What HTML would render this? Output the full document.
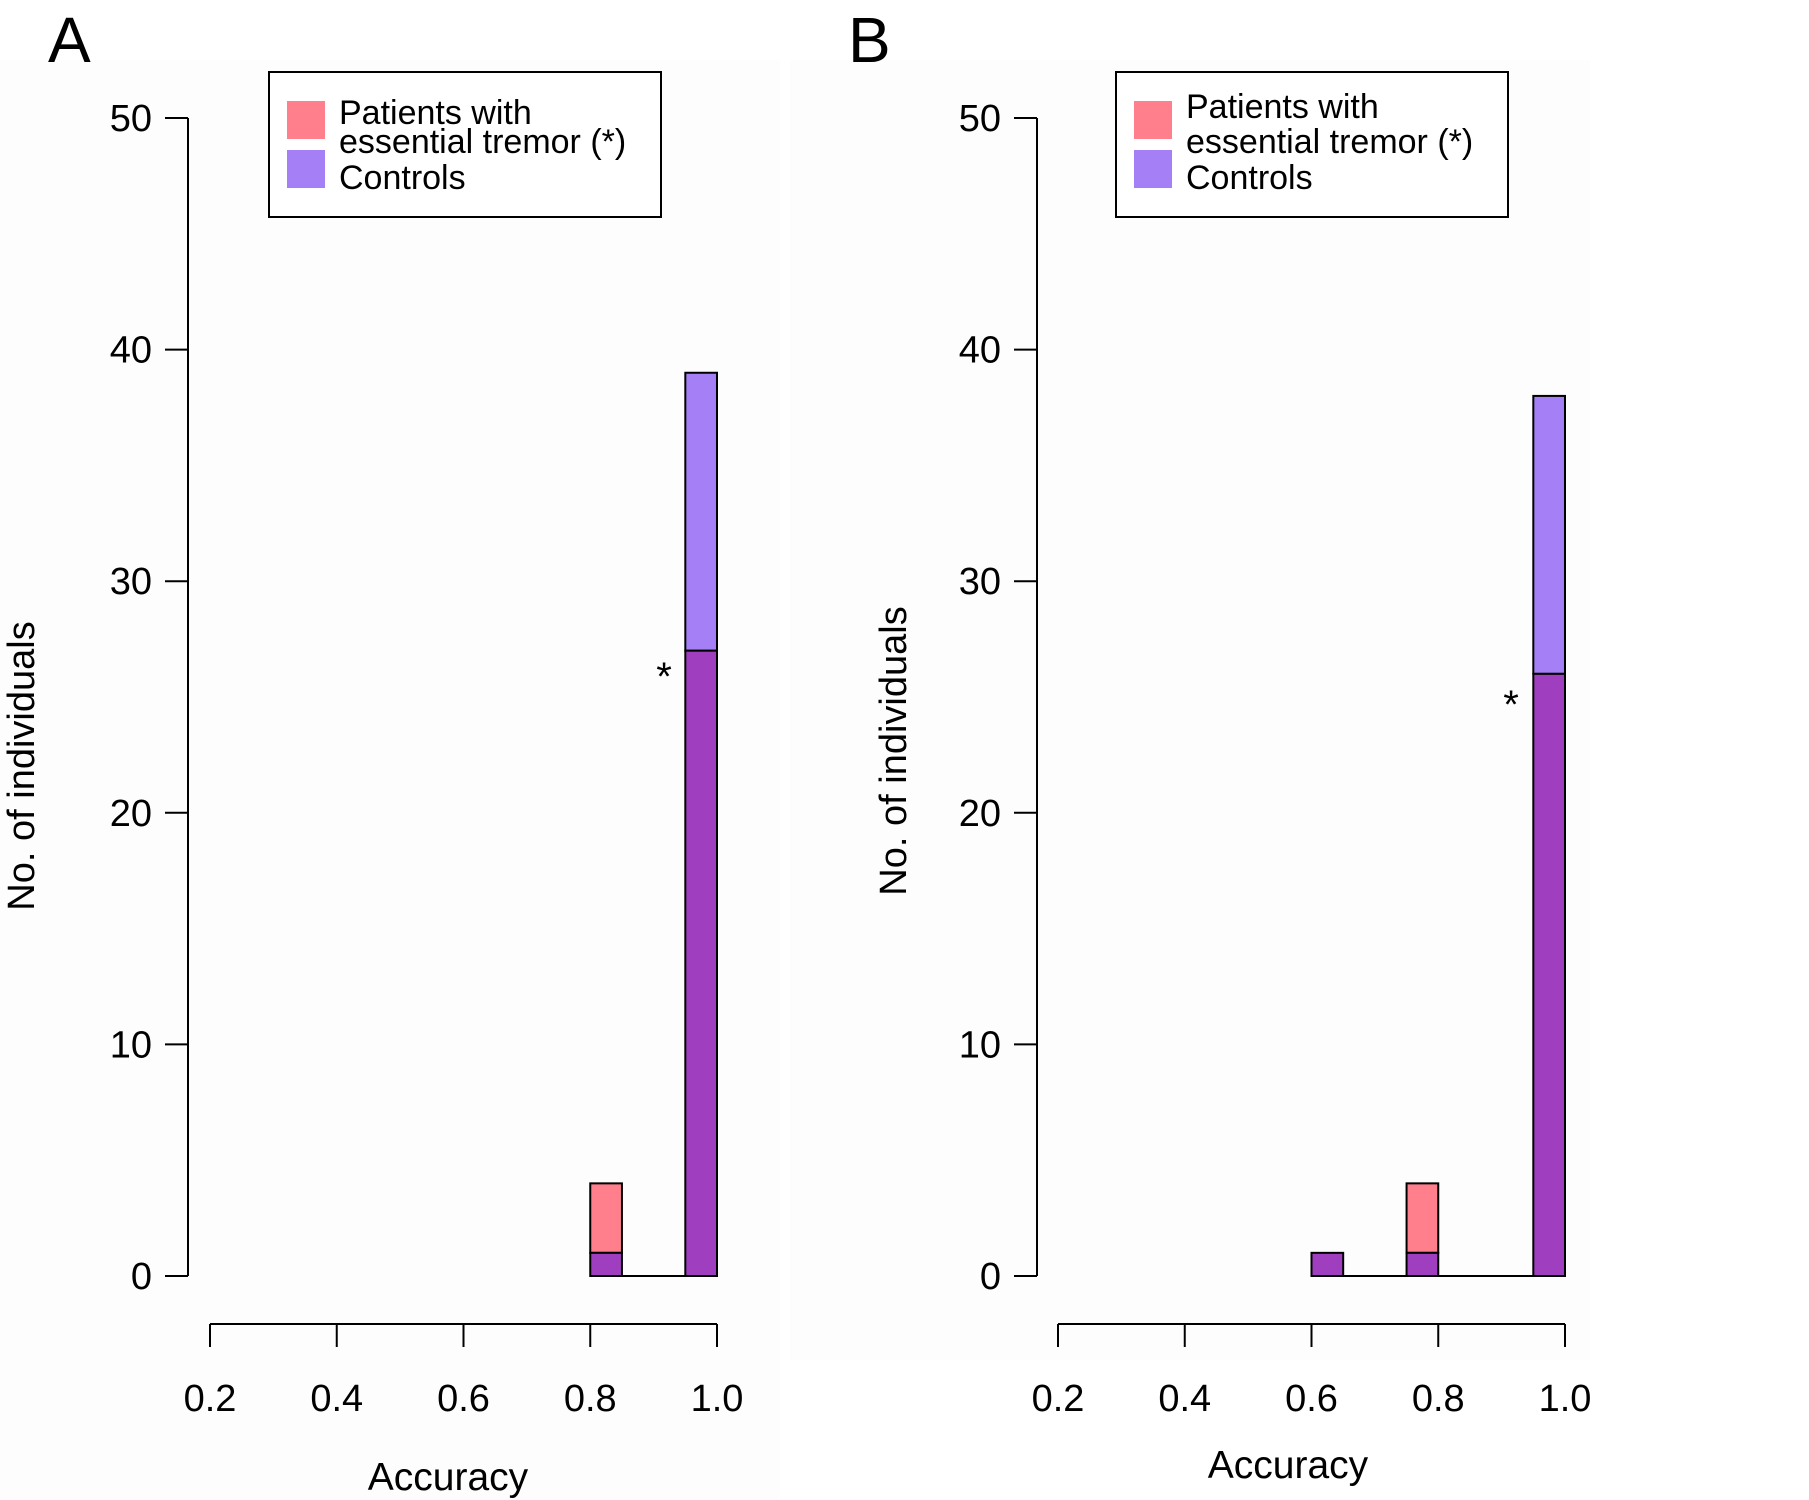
<!DOCTYPE html>
<html><head><meta charset="utf-8"><style>
body{margin:0;background:#fff}
svg{display:block;font-family:"Liberation Sans",sans-serif}
</style></head><body>
<svg id="chart" width="1809" height="1500" viewBox="0 0 1809 1500" xmlns="http://www.w3.org/2000/svg">
<rect x="0" y="0" width="1809" height="1500" fill="#ffffff"/>
<rect x="0" y="60" width="780" height="1440" fill="#fdfdfd"/>
<rect x="790" y="60" width="800" height="1300" fill="#fdfdfd"/>
</svg>
<script>
const binStarts = [0.6, 0.75, 0.8, 0.95];
const binWidth = 0.05;
const aPatients = [0, 0, 4, 27];
const aControls = [0, 0, 1, 39];
const bPatients = [1, 4, 0, 26];
const bControls = [1, 1, 0, 38];
const yTicks = [0, 10, 20, 30, 40, 50];
const xTicks = [0.2, 0.4, 0.6, 0.8, 1.0];
const xTickLabels = ["0.2", "0.4", "0.6", "0.8", "1.0"];

const NS = "http://www.w3.org/2000/svg";
const svg = document.getElementById('chart');
function el(tag, attrs, parent, text){
  const e = document.createElementNS(NS, tag);
  for (const k in attrs) e.setAttribute(k, attrs[k]);
  if (text !== undefined) e.textContent = text;
  (parent || svg).appendChild(e);
  return e;
}
const Y0 = 1276, YU = (1276 - 118) / 50;
function yScale(v){ return Y0 - v * YU; }

function panel(p){
  const g = el('g', {});
  
  
  const xs = v => p.x02 + (v - 0.2) * (p.x10 - p.x02) / 0.8;
  const lt = el('text', {x: p.labelX, y: 62, 'font-size': 64}, g, p.id.toUpperCase());
  
  
  const ya = el('g', {}, g);
  
  
  el('line', {x1: p.yx, x2: p.yx, y1: yScale(0), y2: yScale(50), stroke: '#000', 'stroke-width': 2}, ya);
  yTicks.forEach(t => {
    el('line', {x1: p.yx - 23, x2: p.yx, y1: yScale(t), y2: yScale(t), stroke: '#000', 'stroke-width': 2}, ya);
    const tl = el('text', {x: p.yx - 36, y: yScale(t) + 13, 'font-size': 38, 'text-anchor': 'end'}, ya, String(t));
    
    
  });
  const yt = el('text', {x: 0, y: 0, 'font-size': 38, 'text-anchor': 'middle', transform: `translate(${p.ytX},${p.ytY}) rotate(-90)`}, g, 'No. of individuals');
  
  
  const xa = el('g', {}, g);
  
  
  el('line', {x1: xs(0.2), x2: xs(1.0), y1: 1324, y2: 1324, stroke: '#000', 'stroke-width': 2}, xa);
  xTicks.forEach((t, i) => {
    el('line', {x1: xs(t), x2: xs(t), y1: 1324, y2: 1347, stroke: '#000', 'stroke-width': 2}, xa);
    const tl = el('text', {x: xs(t), y: 1411, 'font-size': 38, 'text-anchor': 'middle'}, xa, xTickLabels[i]);
    
    
  });
  const xt = el('text', {x: p.xtX, y: p.xtY, 'font-size': 39, 'text-anchor': 'middle'}, g, 'Accuracy');
  
  
  el('line', {x1: xs(p.baseFrom), x2: xs(1.0), y1: Y0, y2: Y0, stroke: '#000', 'stroke-width': 2}, g);
  binStarts.forEach((b, i) => {
    const pv = p.pat[i], cv = p.ctl[i];
    if (pv === 0 && cv === 0) return;
    const x = xs(b), w = xs(b + binWidth) - x;
    const lo = Math.min(pv, cv), hi = Math.max(pv, cv);
    const hiCol = pv > cv ? '#ff7f8c' : '#a57ff5';
    const bh = el('rect', {x, y: yScale(hi), width: w, height: yScale(lo) - yScale(hi), fill: hiCol, stroke: '#000', 'stroke-width': 2}, g);
    
    
    const bl = el('rect', {x, y: yScale(lo), width: w, height: yScale(0) - yScale(lo), fill: '#9f3fbf', stroke: '#000', 'stroke-width': 2}, g);
    
    
  });
  const st = el('text', {x: p.starX, y: p.starY, 'font-size': 40, 'text-anchor': 'middle'}, g, '*');
  
  
  const lg = el('g', {}, g);
  
  
  el('rect', {x: p.lx, y: 72, width: 392, height: 145, fill: '#fff', stroke: '#000', 'stroke-width': 2}, lg);
  el('rect', {x: p.lx + 18, y: 101, width: 38, height: 38, fill: '#ff7f8c'}, lg);
  el('rect', {x: p.lx + 18, y: 150, width: 38, height: 38, fill: '#a57ff5'}, lg);
  const t1 = el('text', {x: p.lx + 70, y: p.l1, 'font-size': 34}, lg, 'Patients with');
  
  
  el('text', {x: p.lx + 70, y: 153, 'font-size': 34}, lg, 'essential tremor (*)');
  const t3 = el('text', {x: p.lx + 70, y: 189, 'font-size': 34}, lg, 'Controls');
  
  
}
panel({id:'a', labelX:48, yx:188, ytX:34, ytY:766, x02:210, x10:717, xtX:448, xtY:1490, baseFrom:0.8,
  pat:aPatients, ctl:aControls, starX:664, starY:690, lx:269, l1:124});
panel({id:'b', labelX:848, yx:1037, ytX:906, ytY:751, x02:1058, x10:1565, xtX:1288, xtY:1478, baseFrom:0.6,
  pat:bPatients, ctl:bControls, starX:1511, starY:718, lx:1116, l1:118});
</script>
</body></html>
